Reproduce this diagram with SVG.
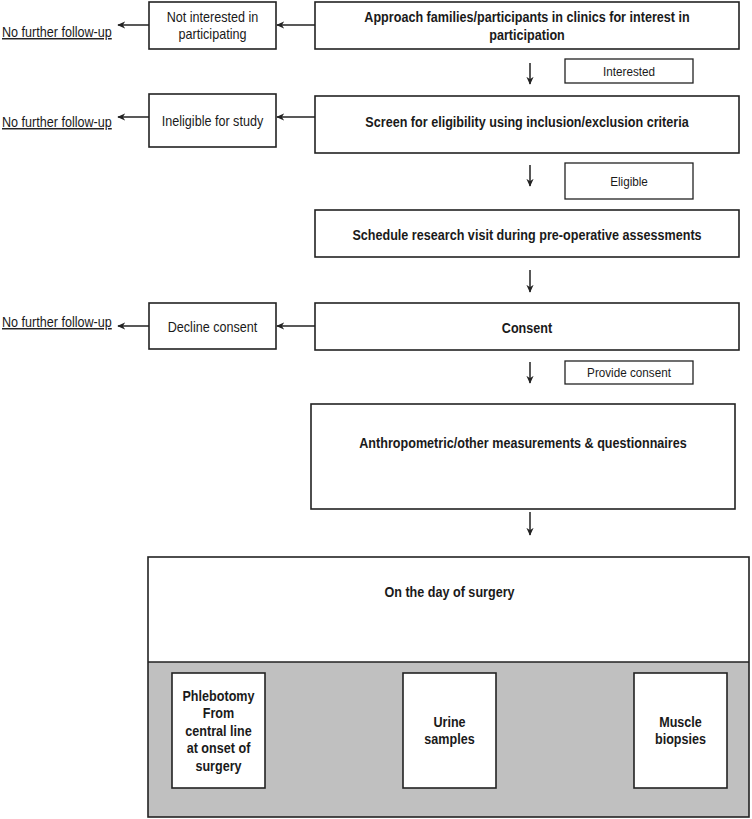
<svg xmlns="http://www.w3.org/2000/svg" width="752" height="819" viewBox="0 0 752 819">
<defs>
<style>
.box{fill:#fff;stroke:#222;stroke-width:1.6}
.sbox{fill:#fff;stroke:#222;stroke-width:1.3}
.t{font-family:"Liberation Sans",Arial,sans-serif;font-size:14px;fill:#1a1a1a;text-anchor:middle}
.b{font-weight:bold;font-size:15px}
.s{font-size:13px}
.l{text-anchor:start;text-decoration:underline}
.c{stroke:#222;stroke-width:1.5;fill:none}
</style>
<marker id="ah" viewBox="0 0 10 10" refX="9" refY="5" markerWidth="8" markerHeight="8" orient="auto" markerUnits="userSpaceOnUse">
<path d="M0,0.5 L10,5 L0,9.5 L3,5 Z" fill="#222"/>
</marker>
</defs>
<g id="connectors">
<line class="c" x1="315" y1="25" x2="277" y2="25" marker-end="url(#ah)"/>
<line class="c" x1="149" y1="25" x2="118" y2="25" marker-end="url(#ah)"/>
<line class="c" x1="315" y1="117" x2="277" y2="117" marker-end="url(#ah)"/>
<line class="c" x1="149" y1="117" x2="118" y2="117" marker-end="url(#ah)"/>
<line class="c" x1="315" y1="326" x2="277" y2="326" marker-end="url(#ah)"/>
<line class="c" x1="149" y1="326" x2="118" y2="326" marker-end="url(#ah)"/>
<line class="c" x1="530" y1="63" x2="530" y2="84" marker-end="url(#ah)"/>
<line class="c" x1="530" y1="165" x2="530" y2="186" marker-end="url(#ah)"/>
<line class="c" x1="530" y1="270" x2="530" y2="292" marker-end="url(#ah)"/>
<line class="c" x1="530" y1="362" x2="530" y2="383" marker-end="url(#ah)"/>
<line class="c" x1="530" y1="512" x2="530" y2="535" marker-end="url(#ah)"/>
</g>
<g id="nf1"><text class="t l" transform="translate(2,37) scale(0.9,1)">No further follow-up</text></g>
<g id="nf2"><text class="t l" transform="translate(2,127) scale(0.9,1)">No further follow-up</text></g>
<g id="nf3"><text class="t l" transform="translate(2,327) scale(0.9,1)">No further follow-up</text></g>
<g id="notinterested">
<rect class="box" x="149" y="2" width="127" height="47"/>
<text class="t" transform="translate(212.5,22) scale(0.9,1)">Not interested in</text>
<text class="t" transform="translate(212.5,39) scale(0.9,1)">participating</text>
</g>
<g id="approach">
<rect class="box" x="315" y="2" width="424" height="47"/>
<text class="t b" transform="translate(527,22) scale(0.84,1)">Approach families/participants in clinics for interest in</text>
<text class="t b" transform="translate(527,40) scale(0.84,1)">participation</text>
</g>
<g id="interested">
<rect class="sbox" x="565" y="59" width="128" height="24"/>
<text class="t s" transform="translate(629,76) scale(0.9,1)">Interested</text>
</g>
<g id="ineligible">
<rect class="box" x="149" y="94" width="127" height="53"/>
<text class="t" transform="translate(212.5,126) scale(0.9,1)">Ineligible for study</text>
</g>
<g id="screen">
<rect class="box" x="315" y="96" width="424" height="57"/>
<text class="t b" transform="translate(527,127) scale(0.84,1)">Screen for eligibility using inclusion/exclusion criteria</text>
</g>
<g id="eligible">
<rect class="sbox" x="565" y="163" width="128" height="36"/>
<text class="t s" transform="translate(629,186) scale(0.9,1)">Eligible</text>
</g>
<g id="schedule">
<rect class="box" x="315" y="210" width="424" height="47"/>
<text class="t b" transform="translate(527,240) scale(0.84,1)">Schedule research visit during pre-operative assessments</text>
</g>
<g id="decline">
<rect class="box" x="149" y="303" width="127" height="46"/>
<text class="t" transform="translate(212.5,332) scale(0.9,1)">Decline consent</text>
</g>
<g id="consent">
<rect class="box" x="315" y="303" width="424" height="47"/>
<text class="t b" transform="translate(527,333) scale(0.84,1)">Consent</text>
</g>
<g id="provide">
<rect class="sbox" x="565" y="361" width="128" height="23"/>
<text class="t s" transform="translate(629,377) scale(0.9,1)">Provide consent</text>
</g>
<g id="anthro">
<rect class="box" x="311" y="404" width="424" height="105"/>
<text class="t b" transform="translate(523,448) scale(0.84,1)">Anthropometric/other measurements &amp; questionnaires</text>
</g>
<g id="surgery">
<rect x="148" y="662" width="601" height="155" fill="#c0c0c0" stroke="none"/>
<rect x="148" y="557" width="601" height="260" fill="none" stroke="#222" stroke-width="1.6"/>
<line x1="148" y1="662" x2="749" y2="662" stroke="#222" stroke-width="1.6"/>
<text class="t b" transform="translate(449.5,597) scale(0.84,1)">On the day of surgery</text>
</g>
<g id="phlebotomy">
<rect class="box" x="172" y="673" width="93" height="115"/>
<text class="t b" transform="translate(218.5,701) scale(0.84,1)">Phlebotomy</text>
<text class="t b" transform="translate(218.5,718) scale(0.84,1)">From</text>
<text class="t b" transform="translate(218.5,736) scale(0.84,1)">central line</text>
<text class="t b" transform="translate(218.5,753) scale(0.84,1)">at onset of</text>
<text class="t b" transform="translate(218.5,771) scale(0.84,1)">surgery</text>
</g>
<g id="urine">
<rect class="box" x="403" y="673" width="93" height="115"/>
<text class="t b" transform="translate(449.5,727) scale(0.84,1)">Urine</text>
<text class="t b" transform="translate(449.5,744) scale(0.84,1)">samples</text>
</g>
<g id="muscle">
<rect class="box" x="634" y="673" width="93" height="115"/>
<text class="t b" transform="translate(680.5,727) scale(0.84,1)">Muscle</text>
<text class="t b" transform="translate(680.5,744) scale(0.84,1)">biopsies</text>
</g>
</svg>
